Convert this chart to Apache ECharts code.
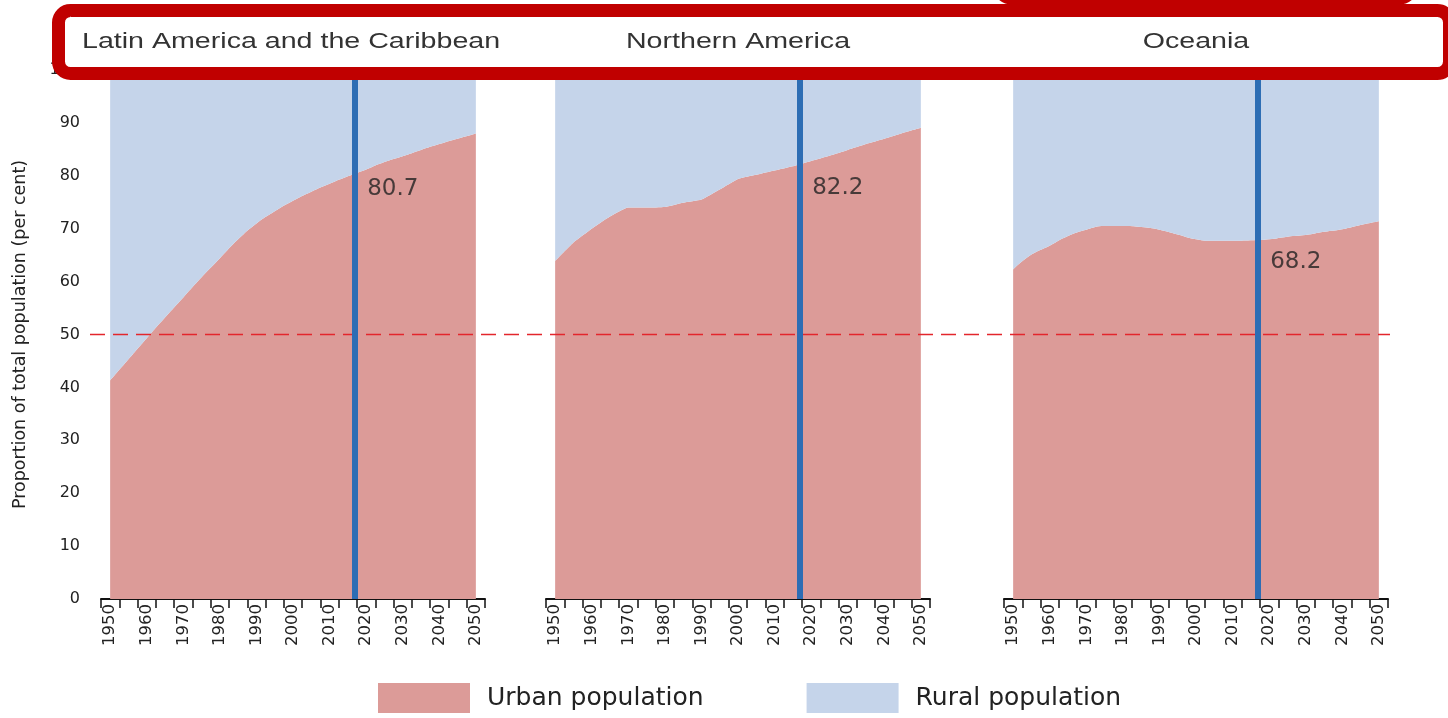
<!DOCTYPE html>
<html>
<head>
<meta charset="utf-8">
<script src="https://cdn.jsdelivr.net/npm/echarts@6/dist/echarts.min.js"></script>
<style>
  html, body { margin: 0; padding: 0; background: #fff; }
  #chart { width: 1448px; height: 718px; }
</style>
</head>
<body>
<div id="chart"></div>
<script>
// five-year points, 1950-2050
const years = [1950, 1955, 1960, 1965, 1970, 1975, 1980, 1985, 1990, 1995, 2000,
  2005, 2010, 2015, 2020, 2025, 2030, 2035, 2040, 2045, 2050];
const yearLabels = years.map(String);

const regions = ['Latin America and the Caribbean', 'Northern America', 'Oceania'];

// urban share of total population, per cent
const urbanLatinAmerica = [41.3, 45.3, 49.3, 53.2, 57.0, 60.8, 64.4, 68.0, 71.0, 73.3, 75.3,
  77.0, 78.5, 79.9, 81.2, 82.6, 83.7, 84.9, 86.0, 87.0, 88.0];
const urbanNorthAmerica = [63.9, 67.4, 70.0, 72.3, 74.0, 74.0, 74.1, 74.9, 75.5, 77.4, 79.4,
  80.2, 81.0, 81.8, 82.8, 83.8, 84.9, 86.0, 87.0, 88.1, 89.1];
const urbanOceania = [62.3, 65.1, 66.8, 68.6, 69.8, 70.5, 70.5, 70.3, 69.8, 68.9, 68.0,
  67.7, 67.7, 67.8, 68.0, 68.5, 68.8, 69.4, 69.9, 70.7, 71.4];

// current-year marker and its value per region
const markerYear = 2017;
const markerValues = [80.7, 82.2, 68.2];
const halfLine = 50;

const urbanSeries = [urbanLatinAmerica, urbanNorthAmerica, urbanOceania];
const smoothing = [true, 0.15, true];

const URBAN = '#dc9b98';
const RURAL = '#c5d4ea';
const MARKER = '#2d6db4';
const TEXT = '#222';
const WIDE = 'DejaVu Sans';

const panelLeft = [101, 546, 1004];
const panelWidth = 384;

const grid = [], xAxis = [], yAxis = [], series = [];

panelLeft.forEach((left, i) => {
  grid.push({ left: left, width: panelWidth, top: 70, bottom: 119 });

  // visible axis: boundaries every five years, label every ten
  xAxis.push({
    type: 'category', gridIndex: i, data: yearLabels, boundaryGap: true,
    axisLine: { show: true, lineStyle: { color: '#111', width: 2 } },
    axisTick: { show: true, interval: 0, length: 9, lineStyle: { color: '#111', width: 1.5 } },
    axisLabel: { interval: 1, rotate: 90, fontSize: 16.5, color: TEXT, fontFamily: WIDE, margin: 5 },
  });
  // hidden value axis for the marker year
  xAxis.push({ type: 'value', gridIndex: i, min: 1947.5, max: 2052.5, show: false });

  yAxis.push({
    type: 'value', gridIndex: i, min: 0, max: 100, interval: 10,
    axisLine: { show: false }, axisTick: { show: false }, splitLine: { show: false },
    axisLabel: { show: i === 0, fontSize: 16, color: TEXT, fontFamily: WIDE, margin: 21 },
    name: i === 0 ? 'Proportion of total population (per cent)' : '',
    nameLocation: 'middle', nameRotate: 90, nameGap: 72,
    nameTextStyle: { fontSize: 17.5, color: TEXT, fontFamily: WIDE },
  });

  const urban = urbanSeries[i];
  series.push({
    name: 'Urban population', type: 'line', xAxisIndex: i * 2, yAxisIndex: i,
    stack: 'r' + i, smooth: smoothing[i], symbol: 'none', lineStyle: { width: 0 },
    areaStyle: { color: URBAN, opacity: 1 }, itemStyle: { color: URBAN }, z: 2,
    data: urban,
  });
  series.push({
    name: 'Rural population', type: 'line', xAxisIndex: i * 2, yAxisIndex: i,
    stack: 'r' + i, smooth: smoothing[i], symbol: 'none', lineStyle: { width: 0 },
    areaStyle: { color: RURAL, opacity: 1 }, itemStyle: { color: RURAL }, z: 2,
    data: urban.map(v => +(100 - v).toFixed(1)),
  });
  series.push({
    type: 'scatter', xAxisIndex: i * 2 + 1, yAxisIndex: i, symbolSize: 0, silent: true, z: 7,
    data: [[markerYear, markerValues[i]]],
    label: {
      show: true, position: 'right', distance: 12, offset: [0, i === 0 ? 17 : 24],
      formatter: String(markerValues[i]), fontSize: 23, color: TEXT, fontFamily: WIDE,
    },
    markLine: {
      silent: true, symbol: 'none', label: { show: false },
      lineStyle: { color: MARKER, width: 6, type: 'solid' },
      data: [{ xAxis: markerYear }],
    },
  });
});

// full-width overlay grid for the 50 per cent reference line
grid.push({ left: 90, right: 58, top: 70, bottom: 119 });
xAxis.push({ type: 'value', gridIndex: 3, min: 0, max: 1, show: false });
yAxis.push({ type: 'value', gridIndex: 3, min: 0, max: 100, show: false });
series.push({
  type: 'line', xAxisIndex: 6, yAxisIndex: 3, symbol: 'none', silent: true, z: 4,
  lineStyle: { color: '#e3262c', width: 1.5, type: [15, 8] },
  data: [[0, halfLine], [1, halfLine]],
});

function title(text, x, align) {
  return {
    type: 'text', z: 101, x: x, y: 42, scaleX: 1.3,
    style: { text: text, fill: '#333', font: '22px "Liberation Sans"', align: align, verticalAlign: 'middle' },
  };
}

const chart = echarts.init(document.getElementById('chart'));
chart.setOption({
  animation: false,
  backgroundColor: '#fff',
  grid, xAxis, yAxis, series,
  legend: {
    left: 378, top: 683, padding: 0, itemWidth: 92, itemHeight: 30, itemGap: 103, icon: 'rect',
    data: ['Urban population', 'Rural population'],
    textStyle: { fontSize: 25, color: TEXT, fontFamily: WIDE, padding: [0, 0, 0, 12] },
  },
  graphic: [
    {
      type: 'rect', z: 100, shape: { x: 998, y: -50, width: 415, height: 48, r: 14 },
      style: { fill: '#fff', stroke: '#c00000', lineWidth: 13 },
    },
    {
      type: 'rect', z: 100, shape: { x: 58.5, y: 10.5, width: 1391, height: 63, r: 12 },
      style: { fill: '#fff', stroke: '#c00000', lineWidth: 13 },
    },
    title(regions[0], 82, 'left'),
    title(regions[1], 738, 'center'),
    title(regions[2], 1196, 'center'),
  ],
});
</script>
</body>
</html>
